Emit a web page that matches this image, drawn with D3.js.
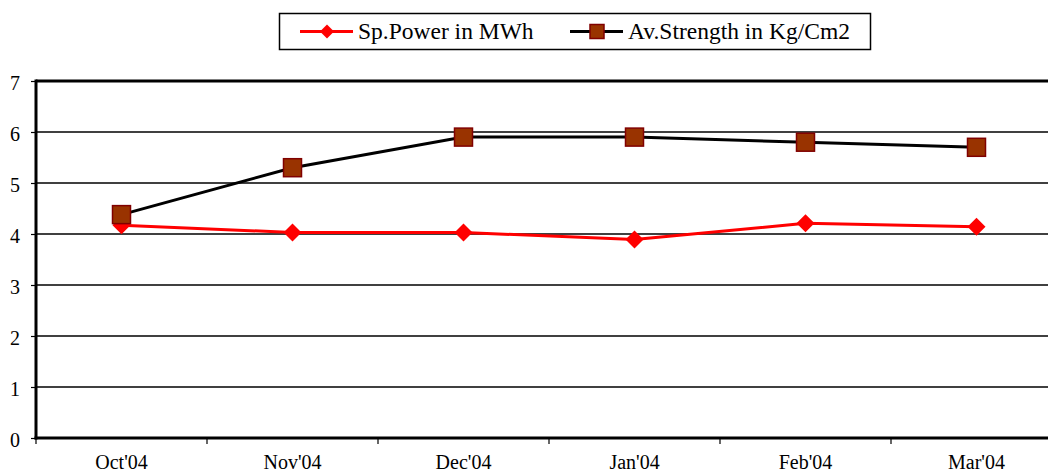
<!DOCTYPE html>
<html><head><meta charset="utf-8">
<script src="https://cdn.jsdelivr.net/npm/d3@7"></script>
</head>
<body style="margin:0;padding:0;background:#fff;overflow:hidden">
<svg id="chart" width="1048" height="475" style="display:block"></svg>
<script>
const categories = ["Oct'04","Nov'04","Dec'04","Jan'04","Feb'04","Mar'04"];
const spPower = [4.17, 4.03, 4.03, 3.89, 4.21, 4.14];
const avStrength = [4.38, 5.3, 5.9, 5.9, 5.8, 5.7];
const yTicks = [0,1,2,3,4,5,6,7];
const seriesNames = ["Sp.Power in MWh", "Av.Strength in Kg/Cm2"];

(function(){
const FONT = "'Liberation Serif', 'Times New Roman', serif";
const svg = d3.select("#chart");
const mLeft = 36, mTop = 81, mBottom = 438, bandW = 171;
const x = d3.scaleBand().domain(categories).range([mLeft, mLeft + bandW*categories.length]).padding(0);
const y = d3.scaleLinear().domain([0,7]).range([mBottom, mTop]);

// gridlines
svg.append("g").selectAll("line").data(yTicks.filter(d=>d>0 && d<7)).join("line")
  .attr("x1", mLeft).attr("x2", 1048).attr("y1", d=>y(d)).attr("y2", d=>y(d))
  .attr("stroke", "#000").attr("stroke-width", 1.5);
// top border
svg.append("line").attr("x1", mLeft).attr("x2", 1048).attr("y1", y(7)).attr("y2", y(7))
  .attr("stroke", "#000").attr("stroke-width", 3);

// y axis
const yAxis = svg.append("g").attr("transform", `translate(${mLeft},0)`)
  .call(d3.axisLeft(y).tickValues(yTicks).tickSize(5).tickPadding(11).tickFormat(d3.format("d")));
yAxis.select(".domain").remove();
yAxis.selectAll(".tick line").attr("stroke","#000").attr("stroke-width",1.2);
yAxis.selectAll("text").attr("dy","0.4em").attr("fill","#000")
  .style("font-family", FONT).style("font-size","20px");
svg.append("line").attr("x1", mLeft).attr("x2", mLeft).attr("y1", mTop-1.5).attr("y2", mBottom+1.5)
  .attr("stroke","#000").attr("stroke-width",3);

// x axis
const xAxis = svg.append("g").attr("transform", `translate(0,${mBottom})`)
  .call(d3.axisBottom(x).tickSize(0).tickPadding(0));
xAxis.select(".domain").remove();
xAxis.selectAll("text").attr("y", 31).attr("dy", null).attr("fill","#000")
  .style("font-family", FONT).style("font-size","20px");
svg.append("g").selectAll("line").data(categories).join("line")
  .attr("x1", d=>x(d)).attr("x2", d=>x(d)).attr("y1", mBottom).attr("y2", mBottom+6)
  .attr("stroke","#000").attr("stroke-width",1.2);
svg.append("line").attr("x1", mLeft-1.5).attr("x2", 1048).attr("y1", mBottom).attr("y2", mBottom)
  .attr("stroke","#000").attr("stroke-width",3);

const cx = d => x(d) + x.bandwidth()/2;
const line = d3.line().x(d=>cx(d.c)).y(d=>y(d.v));
const spData = categories.map((c,i)=>({c, v: spPower[i]}));
const avData = categories.map((c,i)=>({c, v: avStrength[i]}));

// Sp.Power series
svg.append("path").datum(spData).attr("d", line).attr("fill","none").attr("stroke","#ff0000").attr("stroke-width",3);
const diamond = s => `M0,${-s}L${s},0L0,${s}L${-s},0Z`;
svg.append("g").selectAll("path").data(spData).join("path")
  .attr("transform", d=>`translate(${cx(d.c)},${y(d.v)})`).attr("d", diamond(9)).attr("fill","#ff0000");

// Av.Strength series
svg.append("path").datum(avData).attr("d", line).attr("fill","none").attr("stroke","#000").attr("stroke-width",3);
svg.append("g").selectAll("rect").data(avData).join("rect")
  .attr("x", d=>cx(d.c)-9).attr("y", d=>y(d.v)-9).attr("width",18).attr("height",18)
  .attr("fill","#993300").attr("stroke","#800000").attr("stroke-width",1.5);

// legend
const lg = svg.append("g");
lg.append("rect").attr("x",279.5).attr("y",13.5).attr("width",591).attr("height",36)
  .attr("fill","#fff").attr("stroke","#000").attr("stroke-width",1.5);
const ly = 31.5;
lg.append("line").attr("x1",300).attr("x2",353).attr("y1",ly).attr("y2",ly).attr("stroke","#ff0000").attr("stroke-width",3);
lg.append("path").attr("transform",`translate(327,${ly})`).attr("d",diamond(7)).attr("fill","#ff0000");
lg.append("text").attr("x",358).attr("y",39).attr("fill","#000")
  .style("font-family", FONT).style("font-size","23.5px").text(seriesNames[0]);
lg.append("line").attr("x1",570).attr("x2",623).attr("y1",ly).attr("y2",ly).attr("stroke","#000").attr("stroke-width",3);
lg.append("rect").attr("x",590).attr("y",ly-7).attr("width",14).attr("height",14).attr("fill","#993300").attr("stroke","#800000").attr("stroke-width",1.5);
lg.append("text").attr("x",628).attr("y",39).attr("fill","#000")
  .style("font-family", FONT).style("font-size","23.5px").text(seriesNames[1]);
})();
</script>
</body></html>
